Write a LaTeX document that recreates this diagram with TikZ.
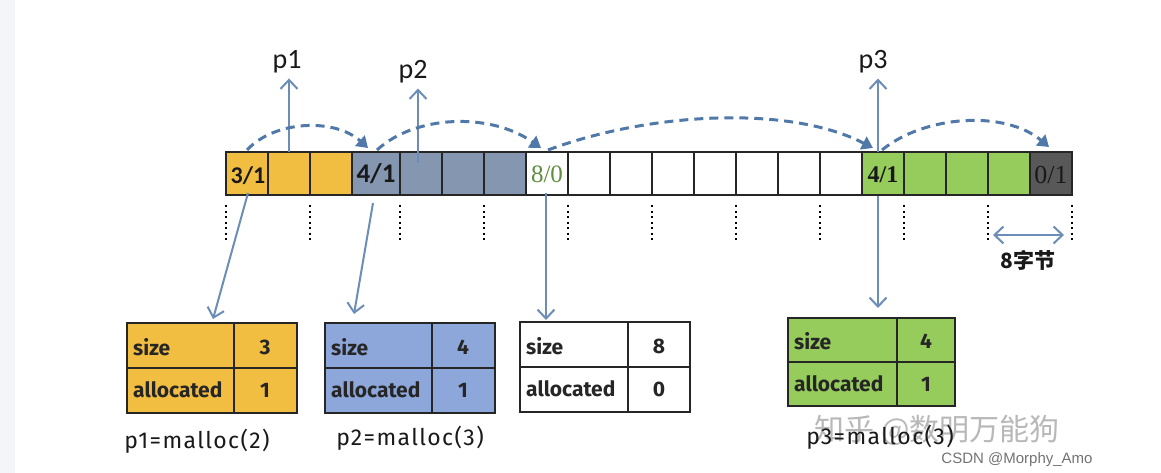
\documentclass[tikz,border=0pt]{standalone}
\usepackage{fontspec}
\usepackage{graphicx}
\setmainfont{Liberation Serif}
\setsansfont{Fira Sans}
\newfontfamily\cjk{Noto Sans CJK SC}
\newfontfamily\carl{Carlito}
\newfontfamily\lblfont[LetterSpace=6]{Fira Sans}
\newfontfamily\wmfont{Liberation Sans}
\usetikzlibrary{arrows.meta,calc}
\definecolor{yel}{HTML}{F2BE42}
\definecolor{slate}{HTML}{8597B0}
\definecolor{grn}{HTML}{96CC5C}
\definecolor{dgray}{HTML}{585858}
\definecolor{lgreen}{HTML}{5E8E3E}
\definecolor{arr}{HTML}{6B8DB7}
\definecolor{darr}{HTML}{5078A8}
\definecolor{strip}{HTML}{F3F5F8}
\definecolor{box1}{HTML}{F2BE42}
\definecolor{box2}{HTML}{8DA7DA}
\definecolor{box4}{HTML}{96CC5C}
\tikzset{
  cell/.style={draw=black!85, line width=1.3pt, inner sep=0pt, outer sep=0pt, minimum height=43pt},
  tbl/.style={draw=black!85, line width=1.6pt, inner sep=0pt, outer sep=0pt},
  tdiv/.style={draw=black!85, line width=1.3pt},
  ttxt/.style={font=\sffamily\bfseries\fontsize{21}{21}\selectfont, text=black!85, inner sep=0pt},
  uparr/.style={draw=arr, line width=2pt, -{Straight Barb[length=9pt,width=17pt,line width=2pt]}},
  dnarr/.style={draw=arr, line width=2pt, -{Straight Barb[length=9pt,width=17pt,line width=2pt]}},
  dasharr/.style={draw=darr, line width=3pt, dash pattern=on 9pt off 6pt, -{Triangle[length=11pt,width=14pt]}},
  dots/.style={draw=black, line width=2pt, dash pattern=on 2pt off 3.5pt},
  plabel/.style={font=\carl\fontsize{28}{28}\selectfont, text=black!90, inner sep=0pt},
  mlabel/.style={font=\lblfont\fontsize{23}{23}\selectfont, text=black!90, inner sep=0pt},
}
\begin{document}
\begin{tikzpicture}[x=1pt,y=-1pt]
\fill[white] (0,0) rectangle (1161,473);
\fill[strip] (0,0) rectangle (15,473);
\useasboundingbox (0,0) rectangle (1161,473);

% memory cells
\foreach \a/\b/\c [count=\i from 0] in {
  226/268/yel, 268/310/yel, 310/352/yel,
  352/400/slate, 400/442/slate, 442/484/slate, 484/526/slate,
  526/568/white, 568/610/white, 610/652/white, 652/694/white, 694/736/white,
  736/778/white, 778/820/white, 820/862/white,
  862/904/grn, 904/946/grn, 946/988/grn, 988/1030/grn,
  1030/1072/dgray}
{
  \node[cell, fill=\c, minimum width={(\b-\a)*1pt}] (c\i) at ({(\a+\b)/2},173.5) {};
}

% cell texts
\node[font=\carl\bfseries\fontsize{24}{24}\selectfont, text=black!90] at ($(c0)+(1,2)$) {3/1};
\node[font=\carl\bfseries\fontsize{27}{27}\selectfont, text=black!90] at ($(c3)+(0,0)$) {4/1};
\node[font=\rmfamily\fontsize{25}{25}\selectfont, text=lgreen] at ($(c7)+(0,1)$) {8/0};
\node[font=\rmfamily\bfseries\fontsize{24}{24}\selectfont, text=black!90] at ($(c15)+(0,1)$) {4/1};
\node[font=\rmfamily\fontsize{26}{26}\selectfont, text=black!90] at ($(c19)+(0,1)$) {0/1};

% dotted separators
\foreach \x [count=\j] in {226,310,400,484,568,652,736,820,904,988,1072}
{
  \coordinate (dt\j) at (\x,205);
  \coordinate (db\j) at (\x,241);
  \draw[dots] (dt\j) -- (db\j);
}

% p labels with up arrows
\node[plabel] (p1) at (287,62) {p1};
\node[plabel] (p2) at (413,72) {p2};
\node[plabel] (p3) at (873,62) {p3};
\coordinate (u1) at (289,152);
\coordinate (u2) at (418,163);
\coordinate (u3) at (878,152);
\draw[uparr] (u1) -- ($(p1.south)+(2,5)$);
\draw[uparr] (u2) -- ($(p2.south)+(5,5)$);
\draw[uparr] (u3) -- ($(p3.south)+(5,5)$);

% dashed next-links
\coordinate (a0) at (247,150);
\coordinate (a1) at (368,148);
\coordinate (a2) at (377,150);
\coordinate (a3) at (541,148);
\coordinate (a4) at (548,150);
\coordinate (a5) at (873,148);
\coordinate (a6) at (882,150);
\coordinate (a7) at (1049,147);
\draw[dasharr] (a0) .. controls (275,120) and (335,118) .. (a1);
\draw[dasharr] (a2) .. controls (415,115) and (490,112) .. (a3);
\draw[dasharr] (a4) .. controls (650,112) and (790,105) .. (a5);
\draw[dasharr] (a6) .. controls (925,115) and (1005,110) .. (a7);

% tables
% box 1
\node[tbl, fill=box1, minimum width=170pt, minimum height=90pt] (b1) at (212,368) {};
\draw[tdiv] (b1.west) -- (b1.east);
\draw[tdiv] ($(b1.north west)+(107,0)$) -- ($(b1.south west)+(107,0)$);
\node[ttxt, anchor=west] at ($(b1.west)+(6,-21)$) {size};
\node[ttxt, anchor=west] at ($(b1.west)+(6,22)$) {allocated};
\node[ttxt] at ($(b1.east)+(-32,-21)$) {3};
\node[ttxt] at ($(b1.east)+(-32,22)$) {1};
% box 2
\node[tbl, fill=box2, minimum width=170pt, minimum height=90pt] (b2) at (410,368) {};
\draw[tdiv] (b2.west) -- (b2.east);
\draw[tdiv] ($(b2.north west)+(107,0)$) -- ($(b2.south west)+(107,0)$);
\node[ttxt, anchor=west] at ($(b2.west)+(6,-21)$) {size};
\node[ttxt, anchor=west] at ($(b2.west)+(6,22)$) {allocated};
\node[ttxt] at ($(b2.east)+(-32,-21)$) {4};
\node[ttxt] at ($(b2.east)+(-32,22)$) {1};
% box 3
\node[tbl, fill=white, minimum width=170pt, minimum height=90pt] (b3) at (605,367) {};
\draw[tdiv] (b3.west) -- (b3.east);
\draw[tdiv] ($(b3.north west)+(108,0)$) -- ($(b3.south west)+(108,0)$);
\node[ttxt, anchor=west] at ($(b3.west)+(6,-21)$) {size};
\node[ttxt, anchor=west] at ($(b3.west)+(6,22)$) {allocated};
\node[ttxt] at ($(b3.east)+(-31,-21)$) {8};
\node[ttxt] at ($(b3.east)+(-31,22)$) {0};
% box 4
\node[tbl, fill=box4, minimum width=167pt, minimum height=88pt] (b4) at (871.5,362) {};
\draw[tdiv] (b4.west) -- (b4.east);
\draw[tdiv] ($(b4.north west)+(109,0)$) -- ($(b4.south west)+(109,0)$);
\node[ttxt, anchor=west] at ($(b4.west)+(6,-21)$) {size};
\node[ttxt, anchor=west] at ($(b4.west)+(6,22)$) {allocated};
\node[ttxt] at ($(b4.east)+(-29,-21)$) {4};
\node[ttxt] at ($(b4.east)+(-29,22)$) {1};

% header -> table arrows
\coordinate (d0) at (248,193);
\coordinate (d1) at (373,203);
\coordinate (d2) at (546,193);
\coordinate (d3) at (878,196);
\draw[dnarr] (d0) -- ($(b1.north west)+(86,-4)$);
\draw[dnarr] (d1) -- ($(b2.north west)+(29,-9)$);
\draw[dnarr] (d2) -- ($(b3.north west)+(26,-2)$);
\draw[dnarr] (d3) -- ($(b4.north west)+(90,-10)$);

% watermark (behind p3 label)
\node[font=\cjk\fontsize{30}{30}\selectfont, text=black!28] (wm1) at (937,430) {知乎 @数明万能狗};

% malloc labels
\node[mlabel] (m1) at (197,441) {p1=malloc(2)};
\node[mlabel] (m2) at (410,438) {p2=malloc(3)};
\node[mlabel] (m3) at (880,437) {p3=malloc(3)};

% 8 bytes
\coordinate (e1) at (993,235);
\coordinate (e2) at (1064,235);
\draw[draw=arr, line width=2pt, {Straight Barb[length=9pt,width=17pt,line width=2pt]}-{Straight Barb[length=9pt,width=17pt,line width=2pt]}] (e1) -- (e2);
\node[font=\cjk\bfseries\fontsize{21}{21}\selectfont, text=black!90] (eb) at (1028,260) {8字节};

\node[font=\wmfont\fontsize{15}{15}\selectfont, text=black!55] (wm2) at (1017,460) {CSDN @Morphy\_Amo};
\end{tikzpicture}
\end{document}
